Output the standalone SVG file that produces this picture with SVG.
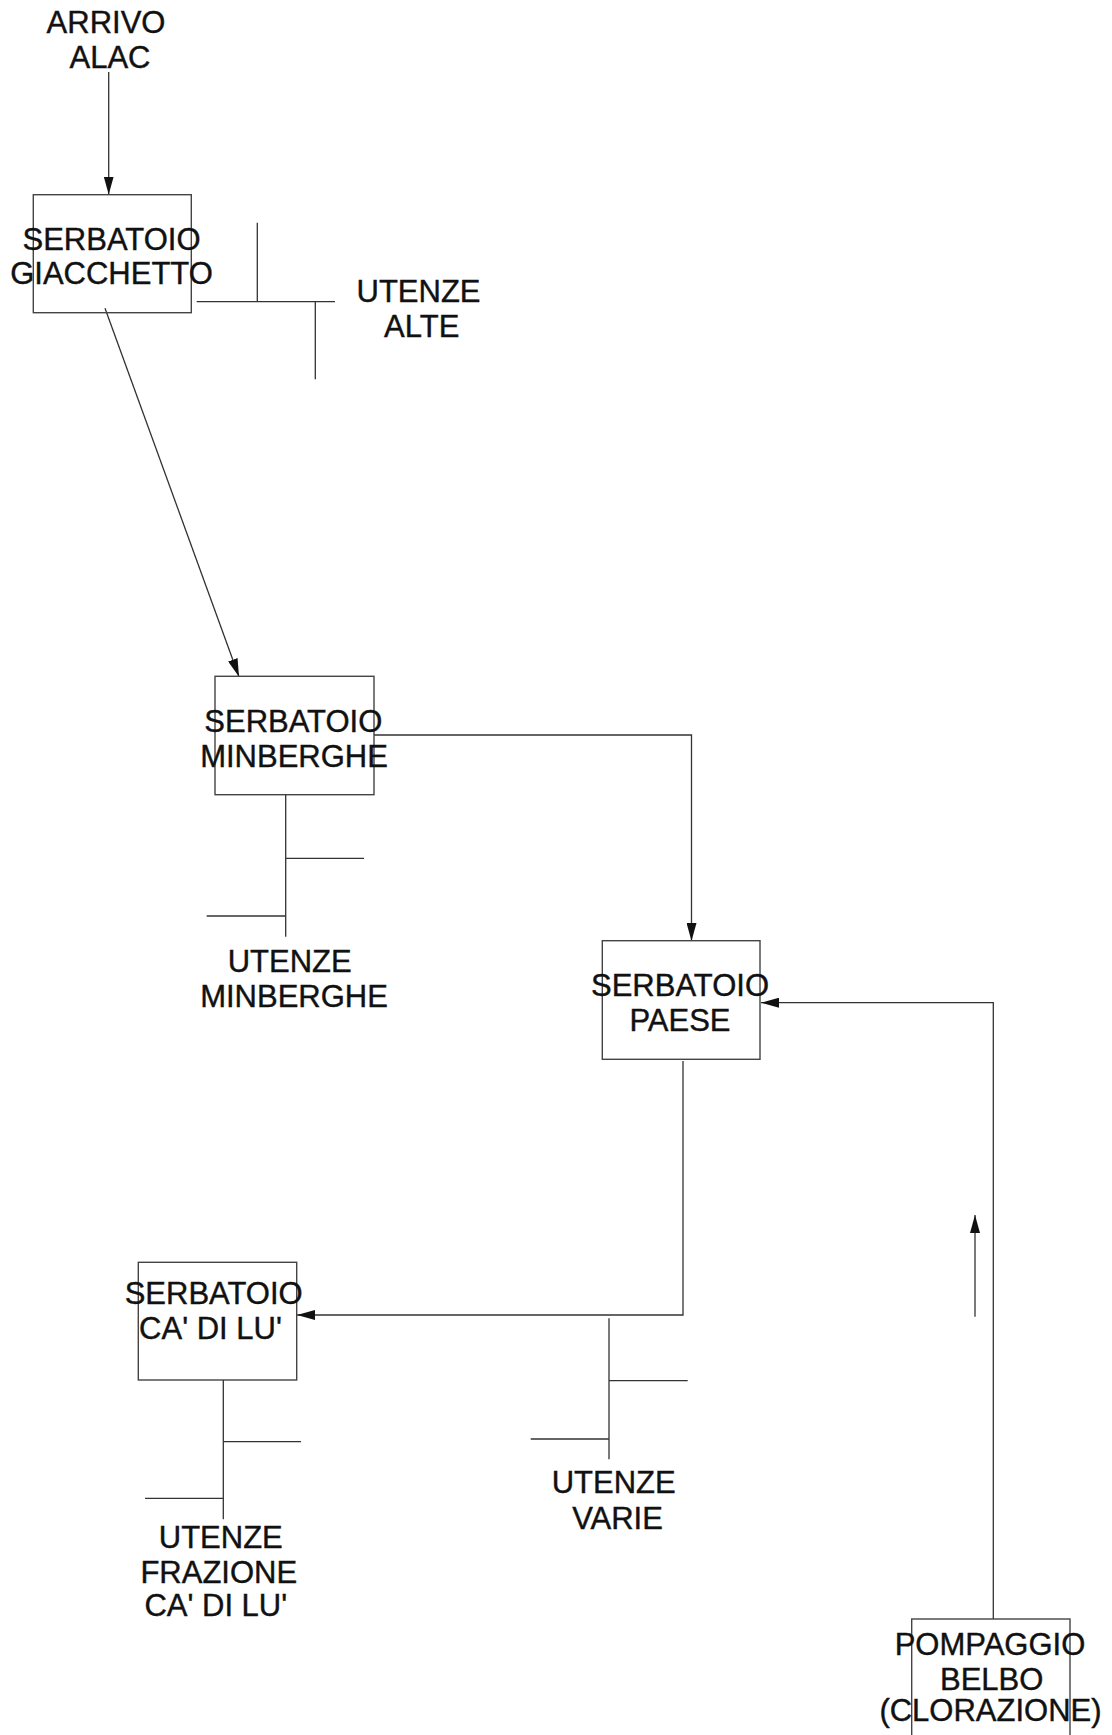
<svg xmlns="http://www.w3.org/2000/svg" width="1112" height="1735" viewBox="0 0 1112 1735">
<defs>
<marker id="arr" viewBox="0 0 18 10" refX="18" refY="5" markerWidth="18" markerHeight="10" markerUnits="userSpaceOnUse" orient="auto">
<path d="M0,0 L18,5 L0,10 z" fill="#111"/>
</marker>
<style>
.t{font-family:"Liberation Sans",Arial,sans-serif;font-size:31px;fill:#111;stroke:#111;stroke-width:0.4;text-anchor:middle}
.b{fill:none;stroke:#444;stroke-width:1.4}
.l{fill:none;stroke:#333;stroke-width:1.3}
.c{fill:none;stroke:#333;stroke-width:1.3;marker-end:url(#arr)}
</style>
</defs>
<rect width="1112" height="1735" fill="#fff"/>

<g id="connectors">
<line class="c" x1="108.7" y1="72" x2="108.7" y2="194.5"/>
<line class="c" x1="105" y1="308.3" x2="239" y2="676.7"/>
<path class="c" d="M374,735 H691.5 V941"/>
<path class="c" d="M993.3,1619 V1002.7 H761"/>
<line class="c" x1="975" y1="1316.7" x2="975" y2="1215"/>
<path class="c" d="M683,1061 V1315 H297"/>
</g>

<g id="arrivo-alac">
<text class="t" x="106" y="33">ARRIVO</text>
<text class="t" x="110" y="68">ALAC</text>
</g>

<g id="serbatoio-giacchetto">
<rect class="b" x="33.3" y="194.7" width="158" height="118"/>
<text class="t" x="111.5" y="250">SERBATOIO</text>
<text class="t" x="111.5" y="284">GIACCHETTO</text>
</g>

<g id="utenze-alte">
<path class="l" d="M196.7,301.7 H335 M257.3,222.7 V301.7 M315.3,301.7 V379.3"/>
<text class="t" x="418.5" y="302">UTENZE</text>
<text class="t" x="421.7" y="337">ALTE</text>
</g>

<g id="serbatoio-minberghe">
<rect class="b" x="215" y="676.3" width="159" height="118.4"/>
<text class="t" x="293.3" y="731.7">SERBATOIO</text>
<text class="t" x="294" y="766.7">MINBERGHE</text>
</g>

<g id="utenze-minberghe">
<path class="l" d="M285.7,794.7 V936.7 M285.7,858.3 H364 M206.7,916 H285.7"/>
<text class="t" x="289.7" y="971.7">UTENZE</text>
<text class="t" x="294" y="1006.7">MINBERGHE</text>
</g>

<g id="serbatoio-paese">
<rect class="b" x="602.3" y="940.7" width="157.7" height="118.6"/>
<text class="t" x="680" y="996">SERBATOIO</text>
<text class="t" x="680" y="1030.7">PAESE</text>
</g>

<g id="serbatoio-ca-di-lu">
<rect class="b" x="138.3" y="1262.3" width="158.4" height="117.7"/>
<text class="t" x="213.7" y="1304">SERBATOIO</text>
<text class="t" x="210.5" y="1339">CA' DI LU'</text>
</g>

<g id="utenze-varie">
<path class="l" d="M609,1318.3 V1459.3 M609,1380.7 H687.7 M530.7,1439 H609"/>
<text class="t" x="613.7" y="1493.3">UTENZE</text>
<text class="t" x="617.5" y="1529.3">VARIE</text>
</g>

<g id="utenze-frazione">
<path class="l" d="M223.3,1380 V1519.3 M223.3,1441.7 H301 M145,1498.3 H223.3"/>
<text class="t" x="220.8" y="1548.3">UTENZE</text>
<text class="t" x="218.8" y="1583.3">FRAZIONE</text>
<text class="t" x="215.8" y="1615.7">CA' DI LU'</text>
</g>

<g id="pompaggio-belbo">
<rect class="b" x="911.7" y="1619" width="158.3" height="130"/>
<text class="t" x="990" y="1655">POMPAGGIO</text>
<text class="t" x="991.7" y="1690">BELBO</text>
<text class="t" x="990.5" y="1721">(CLORAZIONE)</text>
</g>
</svg>
